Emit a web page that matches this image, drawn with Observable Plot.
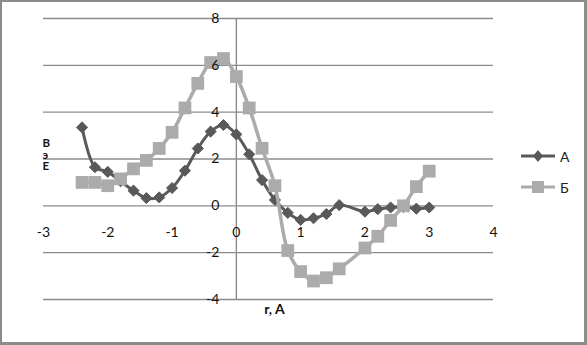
<!DOCTYPE html>
<html>
<head>
<meta charset="utf-8">
<script src="https://cdn.jsdelivr.net/npm/d3@7"></script>
<script src="https://cdn.jsdelivr.net/npm/@observablehq/plot@0.6"></script>
<style>
  html, body { margin: 0; padding: 0; background: #fff; }
  #wrap { position: relative; width: 587px; height: 345px; overflow: hidden; font-family: Lato, "Liberation Sans", sans-serif; }
  #frame { position: absolute; left: 0; top: 0; width: 587px; height: 345px; box-sizing: border-box; border: 2px solid #8c8c8c; border-right-width: 3px; border-bottom-width: 3px; pointer-events: none; }
  #chart { position: absolute; left: 0; top: 0; }
  #legend { position: absolute; left: 520px; top: 146px; font-size: 14px; color: #222; }
  .item { display: flex; align-items: center; height: 20px; margin-bottom: 11px; }
  .item span { margin-left: 4px; }
</style>
</head>
<body>
<div id="wrap">
  <div id="chart"></div>
  <div id="legend"></div>
  <div id="frame"></div>
</div>
<script>
// Series A (dark diamonds)
const xA = [-2.4, -2.2, -2.0, -1.8, -1.6, -1.4, -1.2, -1.0, -0.8, -0.6, -0.4, -0.2, 0.0, 0.2, 0.4, 0.6, 0.8, 1.0, 1.2, 1.4, 1.6, 2.0, 2.2, 2.4, 2.6, 2.8, 3.0];
const yA = [3.35, 1.65, 1.45, 1.05, 0.65, 0.33, 0.36, 0.76, 1.5, 2.45, 3.17, 3.45, 3.05, 2.2, 1.1, 0.25, -0.3, -0.6, -0.53, -0.35, 0.03, -0.25, -0.14, -0.07, -0.05, -0.12, -0.07];
// Series Б (light squares)
const xB = [-2.4, -2.2, -2.0, -1.8, -1.6, -1.4, -1.2, -1.0, -0.8, -0.6, -0.4, -0.2, 0.0, 0.2, 0.4, 0.6, 0.8, 1.0, 1.2, 1.4, 1.6, 2.0, 2.2, 2.4, 2.6, 2.8, 3.0];
const yB = [1.0, 1.0, 0.86, 1.15, 1.58, 1.94, 2.45, 3.14, 4.18, 5.23, 6.12, 6.29, 5.52, 4.18, 2.46, 0.86, -1.91, -2.81, -3.21, -3.07, -2.69, -1.8, -1.3, -0.62, 0.0, 0.82, 1.48];
const seriesNames = ["А", "Б"];
const xTicks = [-3, -2, -1, 0, 1, 2, 3, 4];
const yTicks = [-4, -2, 0, 2, 4, 6, 8];
const yLabel = "В\nэ\nЕ";
const xLabel = "r, A";

const colA = "#595959";
const colB = "#ababab";
const gridCol = "#8c8c8c";

const dataA = xA.map((x, i) => ({x, y: yA[i]}));
const dataB = xB.map((x, i) => ({x, y: yB[i]}));

const chart = Plot.plot({
  width: 587,
  height: 345,
  marginLeft: 43,
  marginRight: 94,
  marginTop: 18,
  marginBottom: 46,
  style: {fontFamily: "Lato, 'Liberation Sans', sans-serif", fontSize: "13px", background: "transparent", overflow: "visible"},
  x: {domain: [-3, 4], axis: null},
  y: {domain: [-4, 8], axis: null},
  marks: [
    Plot.ruleY(yTicks, {stroke: gridCol, strokeWidth: 1.4}),
    Plot.ruleX([0], {stroke: gridCol, strokeWidth: 1.4}),
    Plot.line(dataA, {x: "x", y: "y", stroke: colA, strokeWidth: 3, curve: "catmull-rom"}),
    Plot.dot(dataA, {x: "x", y: "y", symbol: "diamond2", r: 5, fill: colA, stroke: colA, strokeWidth: 1}),
    Plot.line(dataB, {x: "x", y: "y", stroke: colB, strokeWidth: 3.5, curve: "catmull-rom"}),
    Plot.dot(dataB, {x: "x", y: "y", symbol: "square", r: 7.2, fill: colB}),
    Plot.text(yTicks, {x: 0, y: d => d, text: d => String(d), textAnchor: "end", dx: -17, fill: "#111", fontSize: 14}),
    Plot.text(xTicks, {x: d => d, y: 0, text: d => String(d), dy: 27, fill: "#111", fontSize: 14}),
    Plot.text([yLabel], {frameAnchor: "left", text: d => d, dx: -1, dy: -4, fontWeight: "bold", fontSize: 11.5, lineHeight: 1.0, fill: "#111"}),
    Plot.text([xLabel], {frameAnchor: "bottom", text: d => d, dx: 6, dy: 14, fontWeight: "bold", fontSize: 14, fill: "#111"})
  ]
});
document.getElementById("chart").appendChild(chart);

// Legend
const legend = document.getElementById("legend");
const sym = [
  `<svg width="36" height="20"><line x1="1" y1="10" x2="35" y2="10" stroke="${colA}" stroke-width="3"/><path d="M18,4 L23,10 L18,16 L13,10 Z" fill="${colA}"/></svg>`,
  `<svg width="36" height="20"><line x1="1" y1="10" x2="35" y2="10" stroke="${colB}" stroke-width="3"/><rect x="12" y="4" width="12" height="12" fill="${colB}"/></svg>`
];
seriesNames.forEach((n, i) => {
  const d = document.createElement("div");
  d.className = "item";
  d.innerHTML = sym[i] + `<span>${n}</span>`;
  legend.appendChild(d);
});
</script>
</body>
</html>
